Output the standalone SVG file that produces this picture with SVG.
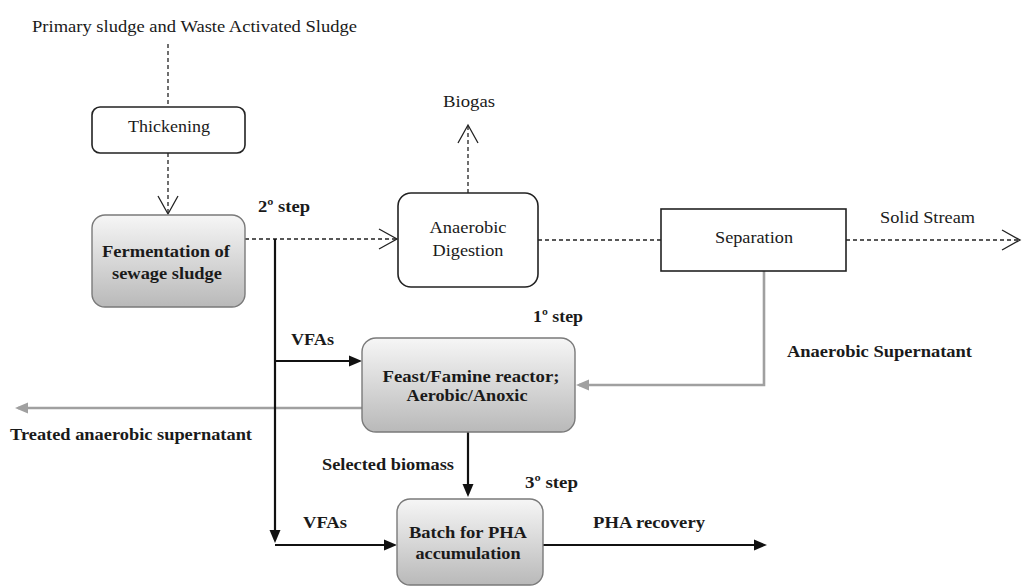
<svg xmlns="http://www.w3.org/2000/svg" width="1023" height="587" viewBox="0 0 1023 587">
<style>
text{fill:#1a1a1a;font-family:"Liberation Serif",Tinos,"DejaVu Serif","Noto Serif",Georgia,Times,serif}
.r{font-size:17px}
.b{font-size:17px;font-weight:bold}
.box{fill:#fff;stroke:#222;stroke-width:1.6}
.gbox{fill:url(#g);stroke:#7a7a7a;stroke-width:1.4}
.dash{fill:none;stroke:#222;stroke-width:1.3;stroke-dasharray:4 3}
.blk{fill:none;stroke:#111;stroke-width:2.2}
.gry{fill:none;stroke:#a0a0a0;stroke-width:2.6}
</style>
<defs>
<linearGradient id="g" x1="0" y1="0" x2="0" y2="1">
<stop offset="0" stop-color="#f6f6f6"/>
<stop offset="1" stop-color="#b9b9b9"/>
</linearGradient>
<marker id="open" viewBox="-20 -12 22 24" refX="0" refY="0" markerWidth="22" markerHeight="24" orient="auto" markerUnits="userSpaceOnUse">
<path d="M-18,-10 L0,0 L-18,10" fill="none" stroke="#222" stroke-width="1.3"/>
</marker>
<marker id="fb" viewBox="-12 -7 16 14" refX="0" refY="0" markerWidth="16" markerHeight="14" orient="auto" markerUnits="userSpaceOnUse">
<path d="M-10,-5.5 L3,0 L-10,5.5 Z" fill="#111"/>
</marker>
<marker id="fg" viewBox="-12 -7 16 14" refX="0" refY="0" markerWidth="16" markerHeight="14" orient="auto" markerUnits="userSpaceOnUse">
<path d="M-10,-5.5 L3,0 L-10,5.5 Z" fill="#a0a0a0"/>
</marker>
</defs>

<g id="connectors">
<line class="dash" x1="168" y1="44" x2="168" y2="107"/>
<line class="dash" x1="168" y1="153" x2="168" y2="214" marker-end="url(#open)"/>
<line class="dash" x1="245" y1="239" x2="397" y2="239" marker-end="url(#open)"/>
<line class="dash" x1="468" y1="193" x2="468" y2="125" marker-end="url(#open)"/>
<line class="dash" x1="538" y1="240" x2="661" y2="240"/>
<line class="dash" x1="846" y1="240" x2="1020" y2="240" marker-end="url(#open)"/>
<path class="gry" d="M764,271 V385 H579" marker-end="url(#fg)"/>
<line class="gry" x1="362" y1="408" x2="18" y2="408" marker-end="url(#fg)"/>
<line class="blk" x1="275" y1="239" x2="275" y2="540" marker-end="url(#fb)"/>
<path class="blk" d="M275,545 H394" marker-end="url(#fb)"/>
<line class="blk" x1="275" y1="361" x2="359" y2="361" marker-end="url(#fb)"/>
<line class="blk" x1="468" y1="432" x2="468" y2="494" marker-end="url(#fb)"/>
<line class="blk" x1="543" y1="545" x2="764" y2="545" marker-end="url(#fb)"/>
</g>

<g id="labels">
<text class="r" x="32" y="32" textLength="325" lengthAdjust="spacingAndGlyphs">Primary sludge and Waste Activated Sludge</text>
<text class="r" x="469" y="107" text-anchor="middle" textLength="52" lengthAdjust="spacingAndGlyphs">Biogas</text>
<text class="r" x="880" y="223" textLength="95" lengthAdjust="spacingAndGlyphs">Solid Stream</text>
<text class="b" x="258" y="212" textLength="52" lengthAdjust="spacingAndGlyphs">2º step</text>
<text class="b" x="533" y="322" textLength="50" lengthAdjust="spacingAndGlyphs">1º step</text>
<text class="b" x="525" y="488" textLength="53" lengthAdjust="spacingAndGlyphs">3º step</text>
<text class="b" x="291" y="345" textLength="43" lengthAdjust="spacingAndGlyphs">VFAs</text>
<text class="b" x="303" y="528" textLength="44" lengthAdjust="spacingAndGlyphs">VFAs</text>
<text class="b" x="787" y="357" textLength="185" lengthAdjust="spacingAndGlyphs">Anaerobic Supernatant</text>
<text class="b" x="10" y="440" textLength="242" lengthAdjust="spacingAndGlyphs">Treated anaerobic supernatant</text>
<text class="b" x="322" y="470" textLength="132" lengthAdjust="spacingAndGlyphs">Selected biomass</text>
<text class="b" x="593" y="528" textLength="112" lengthAdjust="spacingAndGlyphs">PHA recovery</text>
</g>

<g id="thickening">
<rect class="box" x="92" y="107" width="153" height="46" rx="8"/>
<text class="r" x="169" y="132" text-anchor="middle" textLength="82" lengthAdjust="spacingAndGlyphs">Thickening</text>
</g>

<g id="fermentation">
<rect class="gbox" x="92" y="215" width="153" height="92" rx="13"/>
<text class="b" x="166" y="257" text-anchor="middle" textLength="128" lengthAdjust="spacingAndGlyphs">Fermentation of</text>
<text class="b" x="167" y="279" text-anchor="middle" textLength="110" lengthAdjust="spacingAndGlyphs">sewage sludge</text>
</g>

<g id="anaerobic-digestion">
<rect class="box" x="398" y="193" width="140" height="94" rx="13"/>
<text class="r" x="468" y="233" text-anchor="middle" textLength="77" lengthAdjust="spacingAndGlyphs">Anaerobic</text>
<text class="r" x="468" y="256" text-anchor="middle" textLength="71" lengthAdjust="spacingAndGlyphs">Digestion</text>
</g>

<g id="separation">
<rect class="box" x="661" y="209" width="185" height="62"/>
<text class="r" x="754" y="243" text-anchor="middle" textLength="78" lengthAdjust="spacingAndGlyphs">Separation</text>
</g>

<g id="feast-famine">
<rect class="gbox" x="362" y="338" width="213" height="94" rx="14"/>
<text class="b" x="471" y="382" text-anchor="middle" textLength="177" lengthAdjust="spacingAndGlyphs">Feast/Famine reactor;</text>
<text class="b" x="467" y="401" text-anchor="middle" textLength="121" lengthAdjust="spacingAndGlyphs">Aerobic/Anoxic</text>
</g>

<g id="batch">
<rect class="gbox" x="397" y="499" width="146" height="86" rx="13"/>
<text class="b" x="468" y="538" text-anchor="middle" textLength="118" lengthAdjust="spacingAndGlyphs">Batch for PHA</text>
<text class="b" x="468" y="559" text-anchor="middle" textLength="105" lengthAdjust="spacingAndGlyphs">accumulation</text>
</g>
</svg>
